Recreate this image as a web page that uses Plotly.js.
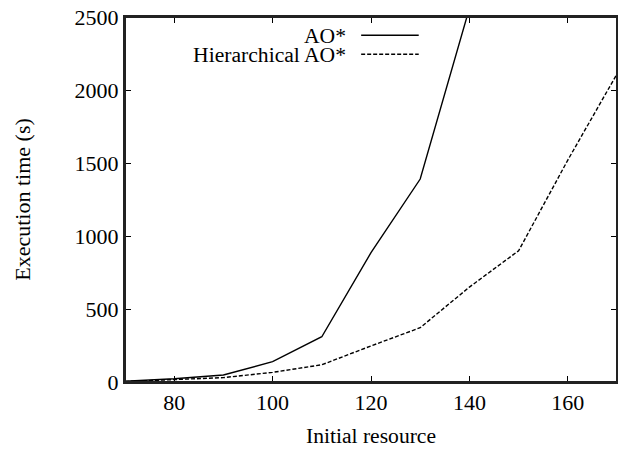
<!DOCTYPE html>
<html>
<head>
<meta charset="utf-8">
<script src="https://cdn.plot.ly/plotly-3.0.1.min.js"></script>
<style>html,body{margin:0;padding:0;background:#fff;overflow:hidden;}#chart{width:618px;height:449px;}</style>
</head>
<body>
<div id="chart"></div>
<script>
const resource = [70, 80, 90, 100, 110, 120, 130, 140, 150, 160, 170];
const aoStar = [5, 22, 48, 139, 310, 886, 1390, 2560, null, null, null];
const hierAoStar = [3, 14, 30, 66, 118, 247, 372, 650, 899, 1520, 2110];
const seriesNames = ["AO*", "Hierarchical AO*"];
const seriesDash = ["solid", "4px,2px"];
const xTickVals = [70, 80, 100, 120, 140, 160, 170];
const xTickText = ["", "80", "100", "120", "140", "160", ""];
const yTickVals = [0, 500, 1000, 1500, 2000, 2500];

const font = "Liberation Serif";
const fs = 22;
const traces = [aoStar, hierAoStar].map((ys, i) => ({
  x: resource, y: ys, type: "scatter", mode: "lines", name: seriesNames[i],
  line: {color: "#000", width: 1.4, dash: seriesDash[i]}, showlegend: false,
  connectgaps: false, cliponaxis: true
}));

// legend drawn gnuplot-style (text right-aligned, sample to the right)
const legendRows = [0.95, 0.898];
const annotations = seriesNames.map((n, i) => ({
  xref: "paper", yref: "paper", x: 0.451, y: legendRows[i], xanchor: "right", yanchor: "middle",
  width: 170, height: 19, align: "right", valign: "middle",
  text: n, showarrow: false, borderpad: 0, font: {family: font, size: 21.6, color: "#000"}
}));
const shapes = seriesNames.map((n, i) => ({
  type: "line", xref: "paper", yref: "paper", x0: 0.480, x1: 0.597, y0: legendRows[i], y1: legendRows[i],
  line: {color: "#000", width: 1.4, dash: seriesDash[i]}
}));
shapes.push({type: "rect", xref: "paper", yref: "paper", x0: 0, x1: 1, y0: 0, y1: 1,
  line: {color: "#222", width: 2}, layer: "above"});

const layout = {
  width: 618, height: 449,
  margin: {l: 125, r: 1, t: 17, b: 67},
  paper_bgcolor: "#fff", plot_bgcolor: "#fff",
  font: {family: font, size: fs, color: "#000"},
  xaxis: {
    range: [70, 170], tickvals: xTickVals, ticktext: xTickText,
    ticks: "inside", ticklen: 6, tickwidth: 1, tickcolor: "#000",
    showline: true, linecolor: "#222", linewidth: 2, mirror: "allticks",
    showgrid: false, zeroline: false, automargin: false,
    tickfont: {family: font, size: fs},
    title: {text: "Initial resource", font: {family: font, size: 21.6}, standoff: 13}
  },
  yaxis: {
    range: [0, 2500], tickvals: yTickVals,
    ticks: "inside", ticklen: 6, tickwidth: 1, tickcolor: "#000",
    showline: true, linecolor: "#222", linewidth: 2, mirror: "allticks",
    showgrid: false, zeroline: false, automargin: false,
    tickfont: {family: font, size: fs},
    title: {text: "Execution time (s)", font: {family: font, size: fs}, standoff: 38}
  },
  annotations: annotations, shapes: shapes
};
Plotly.newPlot("chart", traces, layout, {staticPlot: true, displayModeBar: false});
</script>
</body>
</html>
